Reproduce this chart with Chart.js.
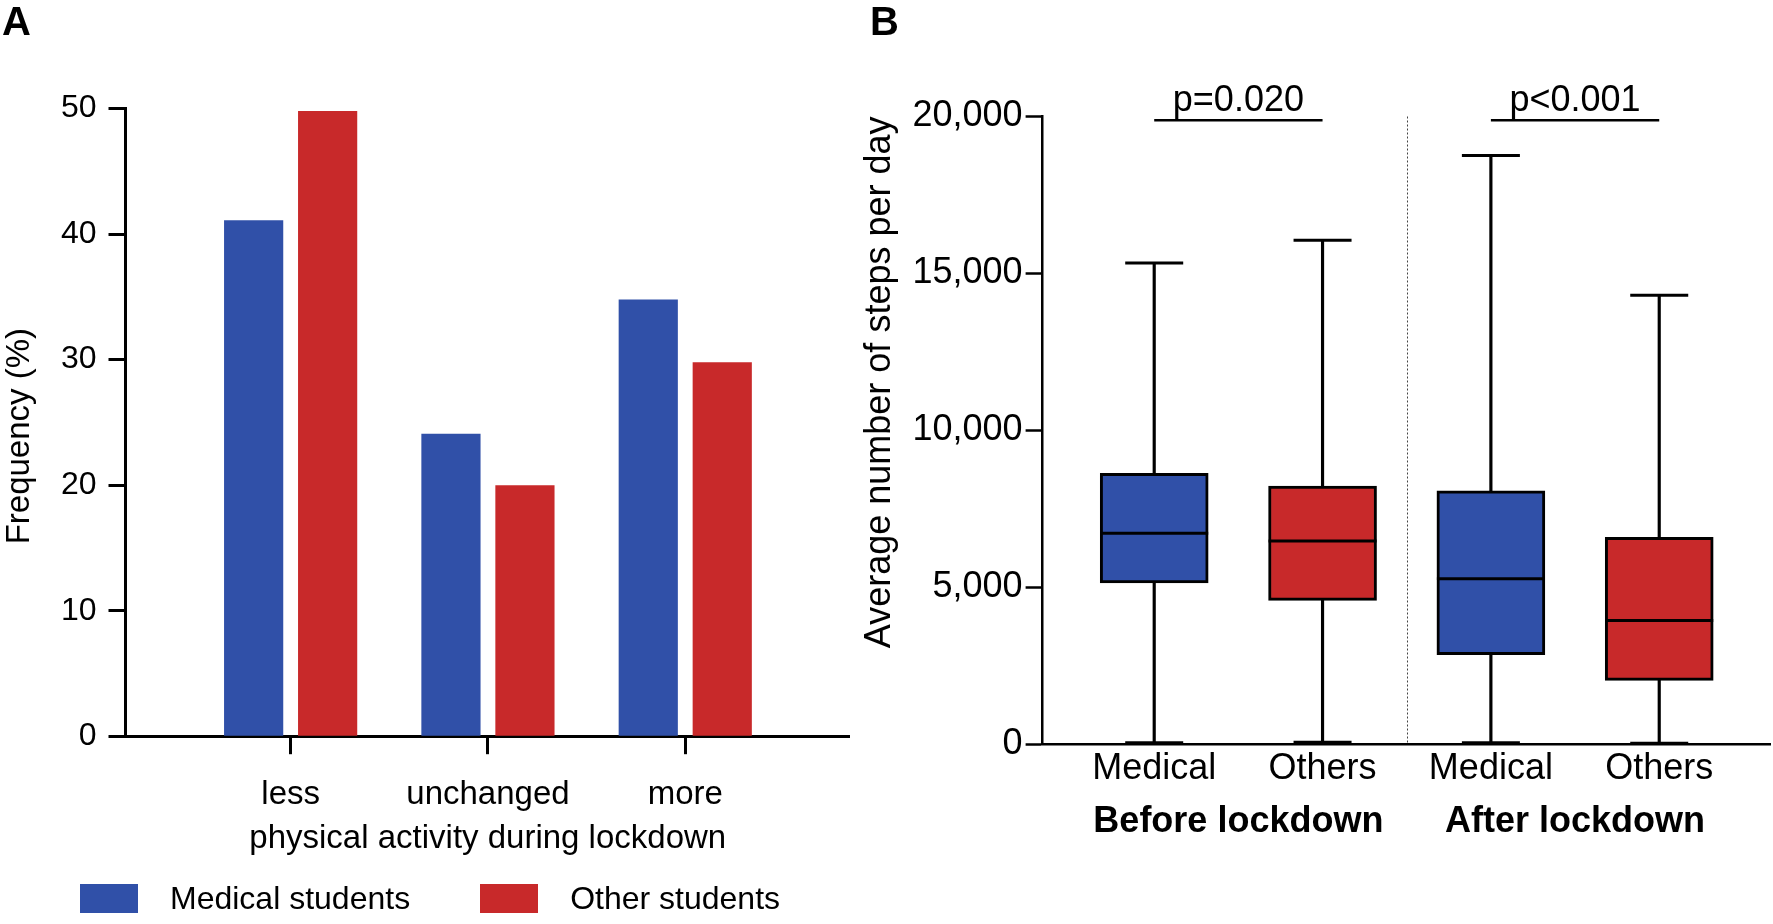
<!DOCTYPE html>
<html>
<head>
<meta charset="utf-8">
<title>Physical activity and steps per day</title>
<script src="https://cdn.jsdelivr.net/npm/chart.js@4.4.1/dist/chart.umd.min.js"></script>
<style>
	body { margin: 0; background: #fff; font-family: "Liberation Sans", Arial, sans-serif; color: #000; }
	#wrap { position: relative; width: 1773px; height: 924px; overflow: hidden; }
	canvas { position: absolute; top: 0; }
	#chartA { left: 0; }
	#chartB { left: 850px; }
	.panel { position: absolute; top: 1px; font-size: 40px; font-weight: bold; line-height: 1; }
	#legendA { position: absolute; left: 80px; top: 882px; display: flex; align-items: center; }
	.item { display: flex; align-items: center; }
	.item + .item { margin-left: 70px; }
	.swatch { width: 58px; height: 29px; }
	.item span { margin-left: 32px; font-size: 32px; line-height: 1; }
</style>
</head>
<body>
<div id="wrap">
	<canvas id="chartA" width="850" height="924"></canvas>
	<canvas id="chartB" width="923" height="924"></canvas>
	<div class="panel" style="left:2px">A</div>
	<div class="panel" style="left:870px">B</div>
	<div id="legendA"></div>
</div>
<script>
	// Panel A: frequency (%) by change in physical activity
	const activityLevels = ['less', 'unchanged', 'more'];
	const studentGroups = ['Medical students', 'Other students'];
	const medicalPct = [41.1, 24.1, 34.8];
	const otherPct = [49.8, 20.0, 29.8];
	const freqTicks = [0, 10, 20, 30, 40, 50];

	// Panel B: average steps per day (box plots)
	const boxGroups = ['Medical', 'Others', 'Medical', 'Others'];
	const periods = ['Before lockdown', 'After lockdown'];
	const stepsMin = [40, 60, 40, 30];
	const stepsQ1 = [5140, 4580, 2850, 2030];
	const stepsMedian = [6720, 6470, 5270, 3940];
	const stepsQ3 = [8630, 8220, 8070, 6590];
	const stepsMax = [15330, 16060, 18760, 14300];
	const pValues = ['p=0.020', 'p<0.001'];
	const stepTicks = [0, 5000, 10000, 15000, 20000];

	const BLUE = '#3050a8';
	const RED = '#c8292a';
	const groupColors = [BLUE, RED];

	Chart.defaults.font.family = '"Liberation Sans", Arial, sans-serif';
	Chart.defaults.color = '#000';

	// legend for panel A
	const legend = document.getElementById('legendA');
	studentGroups.forEach(function(name, i) {
		const item = document.createElement('div');
		item.className = 'item';
		item.innerHTML = '<div class="swatch" style="background:' + groupColors[i] + '"></div><span>' + name + '</span>';
		legend.appendChild(item);
	});

	// fixed axis size, no extra padding from edge labels
	function fixHeight(h) {
		return function(s) { s.height = h; s.paddingLeft = 0; s.paddingRight = 0; };
	}

	// ---- Panel A ----
	new Chart(document.getElementById('chartA'), {
		type: 'bar',
		data: {
			datasets: [medicalPct, otherPct].map(function(vals, d) {
				return {
					label: studentGroups[d],
					data: vals.map((v, i) => ({ x: i + 1, y: v })),
					backgroundColor: groupColors[d],
					categoryPercentage: 0.75,
					barPercentage: 0.8
				};
			})
		},
		options: {
			responsive: false,
			animation: false,
			events: [],
			layout: { autoPadding: false, padding: { top: 108.6, bottom: 65.2, left: 0, right: 0 } },
			plugins: { legend: { display: false }, tooltip: { enabled: false } },
			scales: {
				x: {
					type: 'linear',
					min: 0.163,
					max: 3.835,
					offset: false,
					afterBuildTicks: s => { s.ticks = activityLevels.map((_, i) => ({ value: i + 1 })); },
					afterFit: fixHeight(122.6),
					ticks: { callback: (v, i) => activityLevels[i], font: { size: 33 }, padding: 21, autoSkip: false, maxRotation: 0 },
					grid: { offset: false, drawOnChartArea: false, drawTicks: true, tickLength: 18, tickWidth: 3, color: '#000' },
					border: { display: true, color: '#000', width: 3 },
					title: { display: true, text: 'physical activity during lockdown', font: { size: 33 }, padding: 0 }
				},
				y: {
					min: 0,
					max: 50,
					afterBuildTicks: s => { s.ticks = freqTicks.map(v => ({ value: v })); },
					afterFit: s => { s.width = 125.5; },
					ticks: { font: { size: 32 }, padding: 12 },
					grid: { drawOnChartArea: false, tickLength: 17, tickWidth: 3, color: '#000' },
					border: { display: true, color: '#000', width: 3 },
					// trailing spaces nudge the centred title a little lower, as in the original
					title: { display: true, text: 'Frequency (%)   ', font: { size: 33 }, padding: 0 }
				}
			}
		}
	});

	// ---- Panel B ----
	const annotations = {
		id: 'annotations',
		afterDatasetsDraw(chart) {
			const { ctx, scales: { x, y } } = chart;
			ctx.save();
			// dotted line between before / after
			const xm = Math.round(x.getPixelForValue(2.5)) + 0.5;
			ctx.strokeStyle = '#444';
			ctx.lineWidth = 1;
			ctx.setLineDash([2, 2]);
			ctx.beginPath();
			ctx.moveTo(xm, y.getPixelForValue(20000));
			ctx.lineTo(xm, y.getPixelForValue(0));
			ctx.stroke();
			ctx.setLineDash([]);
			// p-value brackets
			ctx.strokeStyle = '#000';
			ctx.fillStyle = '#000';
			ctx.lineWidth = 2.5;
			ctx.font = '36px "Liberation Sans", Arial, sans-serif';
			ctx.textAlign = 'center';
			ctx.textBaseline = 'alphabetic';
			pValues.forEach(function(label, i) {
				const x0 = x.getPixelForValue(2 * i + 1);
				const x1 = x.getPixelForValue(2 * i + 2);
				const yb = y.getPixelForValue(19880);
				ctx.beginPath();
				ctx.moveTo(x0, yb);
				ctx.lineTo(x1, yb);
				ctx.stroke();
				ctx.fillText(label, (x0 + x1) / 2, yb - 9);
			});
			ctx.restore();
		}
	};

	const xB = { min: 0.337, max: 4.658 };

	new Chart(document.getElementById('chartB'), {
		type: 'bar',
		data: {
			datasets: [
				{
					type: 'line',
					data: stepsMedian.map((v, i) => ({ x: i + 1, y: v })),
					showLine: false,
					pointStyle: 'line',
					pointRadius: 54,
					pointBorderWidth: 3,
					pointBorderColor: '#000',
					order: 0
				},
				{
					type: 'line',
					data: stepsMin.map((v, i) => ({ x: i + 1, y: v })).concat(stepsMax.map((v, i) => ({ x: i + 1, y: v }))),
					showLine: false,
					pointStyle: 'line',
					pointRadius: 29,
					pointBorderWidth: 3,
					pointBorderColor: '#000',
					order: 0
				},
				{
					data: stepsQ1.map((v, i) => ({ x: i + 1, y: [v, stepsQ3[i]] })),
					backgroundColor: boxGroups.map(g => g === 'Medical' ? BLUE : RED),
					borderColor: '#000',
					borderWidth: 3,
					borderSkipped: false,
					grouped: false,
					barThickness: 108,
					order: 1
				},
				{
					data: stepsMin.map((v, i) => ({ x: i + 1, y: [v, stepsMax[i]] })),
					backgroundColor: '#000',
					grouped: false,
					barThickness: 2.5,
					order: 2
				}
			]
		},
		options: {
			responsive: false,
			animation: false,
			events: [],
			layout: { autoPadding: false, padding: { top: 116.5, bottom: 69.9, left: 0, right: 3 } },
			plugins: { legend: { display: false }, tooltip: { enabled: false } },
			scales: {
				x: {
					type: 'linear',
					min: xB.min,
					max: xB.max,
					offset: false,
					afterBuildTicks: s => { s.ticks = boxGroups.map((_, i) => ({ value: i + 1 })); },
					afterFit: fixHeight(50),
					ticks: { callback: (v, i) => boxGroups[i], font: { size: 36 }, padding: 3.3, autoSkip: false, maxRotation: 0 },
					grid: { display: false, offset: false, drawTicks: false },
					border: { display: true, color: '#000', width: 2.5 }
				},
				x2: {
					type: 'linear',
					position: 'bottom',
					weight: 1,
					min: xB.min,
					max: xB.max,
					offset: false,
					afterBuildTicks: s => { s.ticks = periods.map((_, i) => ({ value: 2 * i + 1.5 })); },
					afterFit: fixHeight(60),
					ticks: { callback: (v, i) => periods[i], font: { size: 36, weight: 'bold' }, padding: 6.3, autoSkip: false, maxRotation: 0 },
					grid: { display: false, offset: false, drawTicks: false },
					border: { display: false }
				},
				y: {
					min: 0,
					max: 20000,
					afterBuildTicks: s => { s.ticks = stepTicks.map(v => ({ value: v })); },
					afterFit: s => { s.width = 192.6; },
					ticks: { callback: v => v.toLocaleString('en-US'), font: { size: 36 }, padding: 3 },
					grid: { drawOnChartArea: false, tickLength: 17, tickWidth: 2.5, color: '#000' },
					border: { display: true, color: '#000', width: 2.5 },
					title: { display: true, text: 'Average number of steps per day', font: { size: 36 }, align: 'end', padding: { top: 8, bottom: 0 } }
				}
			}
		},
		plugins: [annotations]
	});
</script>
</body>
</html>
